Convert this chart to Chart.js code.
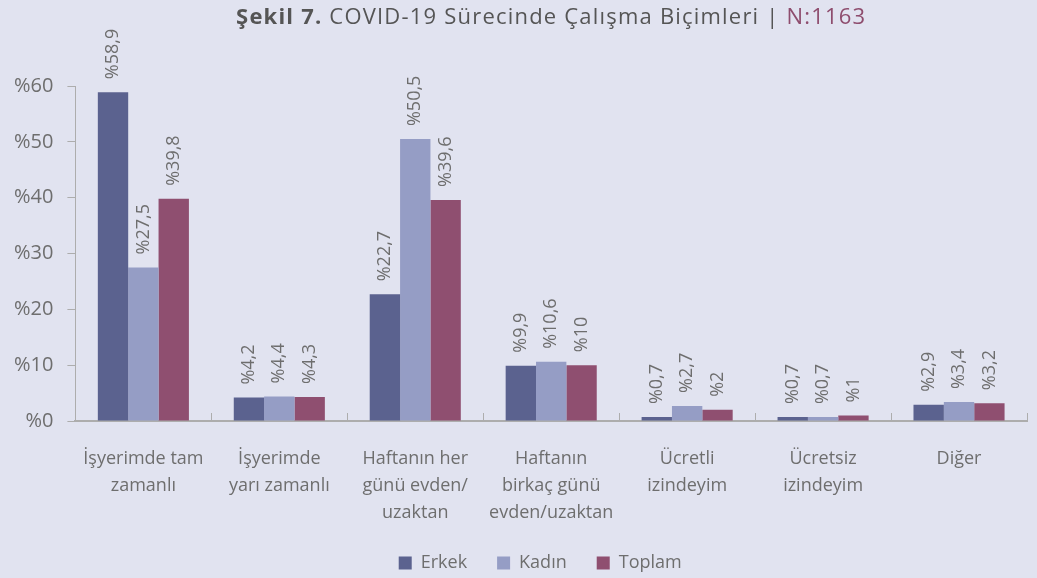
<!DOCTYPE html>
<html>
<head>
<meta charset="utf-8">
<script src="https://cdn.jsdelivr.net/npm/chart.js@4.4.1/dist/chart.umd.min.js"></script>
<style>
  html, body { margin: 0; padding: 0; background: #e1e3f0; }
  #wrap { width: 1037px; height: 578px; }
</style>
</head>
<body>
<div id="wrap"><canvas id="workChart" width="1037" height="578"></canvas></div>
<script>
const categories = [
    ['İşyerimde tam', 'zamanlı'],
    ['İşyerimde', 'yarı zamanlı'],
    ['Haftanın her', 'günü evden/', 'uzaktan'],
    ['Haftanın', 'birkaç günü', 'evden/uzaktan'],
    ['Ücretli', 'izindeyim'],
    ['Ücretsiz', 'izindeyim'],
    ['Diğer']
];
const erkek = [58.9, 4.2, 22.7, 9.9, 0.7, 0.7, 2.9];
const kadin = [27.5, 4.4, 50.5, 10.6, 2.7, 0.7, 3.4];
const toplam = [39.8, 4.3, 39.6, 10, 2, 1, 3.2];
const yTicks = [0, 10, 20, 30, 40, 50, 60];

const fontFamily = '"Open Sans", Lato, sans-serif';
const textColor = '#6e6e6e';
const axisColor = '#adadad';

const fmt = v => '%' + String(v).replace('.', ',');

// rotated value labels above each bar
const valueLabels = {
    id: 'valueLabels',
    afterDatasetsDraw(chart) {
        const ctx = chart.ctx;
        ctx.save();
        ctx.font = `18px ${fontFamily}`;
        ctx.fillStyle = textColor;
        ctx.textAlign = 'left';
        ctx.textBaseline = 'middle';
        chart.data.datasets.forEach((ds, di) => {
            chart.getDatasetMeta(di).data.forEach((bar, i) => {
                ctx.save();
                ctx.translate(bar.x, bar.y - 13);
                ctx.rotate(-Math.PI / 2);
                ctx.fillText(fmt(ds.data[i]), 0, 0);
                ctx.restore();
            });
        });
        ctx.restore();
    }
};

// shorter legend box, nudged towards the middle of the plot area
const legendTweak = {
    id: 'legendTweak',
    beforeInit(chart) {
        const legend = chart.legend;
        if (!legend) return;
        const fit = legend.fit;
        legend.fit = function () {
            fit.call(this);
            this.height = 54;
        };
        const draw = legend.draw;
        legend.draw = function () {
            const area = chart.chartArea;
            const shift = (area.left + area.right) / 2 - chart.width / 2 - 6;
            chart.ctx.save();
            chart.ctx.translate(shift, 0);
            draw.call(this);
            chart.ctx.restore();
        };
    }
};

// small upward ticks between categories + mixed-style title
const extras = {
    id: 'extras',
    afterDraw(chart) {
        const ctx = chart.ctx;
        const x = chart.scales.x;
        const area = chart.chartArea;
        const step = x.getPixelForValue(1) - x.getPixelForValue(0);
        ctx.save();
        ctx.strokeStyle = axisColor;
        ctx.lineWidth = 1;
        for (let i = 1; i <= categories.length; i++) {
            const px = Math.round(x.getPixelForValue(i) - step / 2) + 0.5;
            ctx.beginPath();
            ctx.moveTo(px, area.bottom);
            ctx.lineTo(px, area.bottom - 8);
            ctx.stroke();
        }

        const parts = [
            { t: 'Şekil 7.', f: `bold 22px ${fontFamily}`, c: '#555555' },
            { t: ' COVID-19 Sürecinde Çalışma Biçimleri | ', f: `22px ${fontFamily}`, c: '#555555' },
            { t: 'N:1163', f: `22px ${fontFamily}`, c: '#8e4d6e' }
        ];
        ctx.letterSpacing = '1.2px';
        let total = 0;
        parts.forEach(p => { ctx.font = p.f; p.w = ctx.measureText(p.t).width; total += p.w; });
        let cx = (area.left + area.right) / 2 - total / 2;
        ctx.textBaseline = 'middle';
        ctx.textAlign = 'left';
        parts.forEach(p => {
            ctx.font = p.f;
            ctx.fillStyle = p.c;
            ctx.fillText(p.t, cx, 18);
            cx += p.w;
        });
        ctx.restore();
    }
};

new Chart(document.getElementById('workChart'), {
    type: 'bar',
    data: {
        labels: categories,
        datasets: [
            { label: 'Erkek', data: erkek, backgroundColor: '#5b628f' },
            { label: 'Kadın', data: kadin, backgroundColor: '#959dc5' },
            { label: 'Toplam', data: toplam, backgroundColor: '#8f4f70' }
        ]
    },
    options: {
        responsive: false,
        animation: false,
        categoryPercentage: 0.67,
        barPercentage: 1.0,
        layout: { padding: { top: 86, right: 10, left: 0, bottom: 0 } },
        plugins: {
            title: { display: false },
            tooltip: { enabled: false },
            legend: {
                position: 'bottom',
                labels: {
                    font: { family: fontFamily, size: 18 },
                    color: textColor,
                    boxWidth: 13,
                    boxHeight: 13,
                    padding: 30
                }
            }
        },
        scales: {
            x: {
                grid: { display: false },
                border: { display: true, color: axisColor, width: 2 },
                afterFit: axis => { axis.height = 103; },
                ticks: {
                    font: { family: fontFamily, size: 18, lineHeight: 1.5 },
                    color: textColor,
                    padding: 16,
                    maxRotation: 0,
                    autoSkip: false
                }
            },
            y: {
                min: 0,
                max: 60,
                afterBuildTicks: axis => { axis.ticks = yTicks.map(v => ({ value: v })); },
                grid: { drawOnChartArea: false, tickLength: 8, color: axisColor },
                border: { display: true, color: axisColor },
                ticks: {
                    font: { family: fontFamily, size: 20 },
                    color: textColor,
                    padding: 14,
                    callback: v => '%' + v
                }
            }
        }
    },
    plugins: [legendTweak, valueLabels, extras]
});
</script>
</body>
</html>
